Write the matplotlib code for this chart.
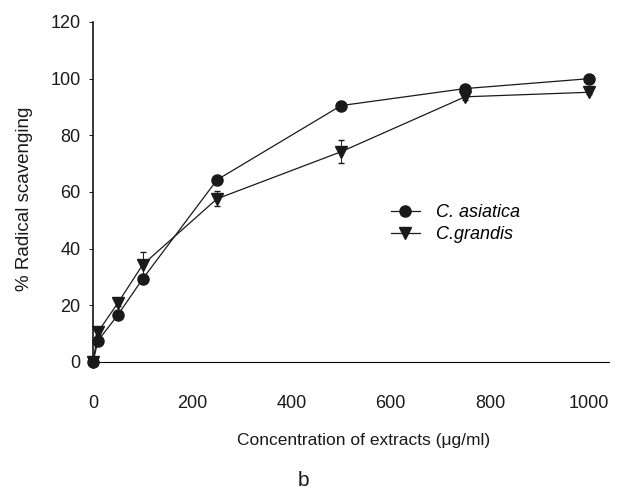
import matplotlib.pyplot as plt
import numpy as np

plt.rcParams['font.family'] = ['Liberation Sans', 'DejaVu Sans']

# data
conc = [0, 10, 50, 100, 250, 500, 750, 1000]
asiatica = [0, 7.5, 16.6, 29.3, 64.3, 90.5, 96.5, 100]
grandis = [0, 10.6, 20.8, 34.3, 57.6, 74.2, 93.6, 95.2]
grandis_err = [0, 1, 1, 4.5, 2.7, 4, 1, 0.5]
xticks = [0, 200, 400, 600, 800, 1000]
yticks = [0, 20, 40, 60, 80, 100, 120]

col = '#1a1a1a'
fig = plt.figure(figsize=(6.29, 4.93), dpi=100)
ax = fig.add_axes([93/629, 1-362/493, (609-93)/629, 340/493])

ax.plot(conc, asiatica, color=col, lw=0.9, marker='o', ms=8,
        clip_on=False, zorder=3, label='C. asiatica')
ax.errorbar(conc, grandis, yerr=grandis_err, color=col, lw=0.9, marker='v', ms=8,
            capsize=2, elinewidth=0.7, clip_on=False, zorder=3, label='C.grandis')

ax.set_xlim(0, 1040)
ax.set_ylim(0, 120)
ax.set_xticks(xticks)
ax.set_yticks(yticks)
ax.spines['top'].set_visible(False)
ax.spines['right'].set_visible(False)
ax.spines['left'].set_linewidth(1.1)
ax.spines['bottom'].set_linewidth(0.8)
ax.tick_params(axis='y', length=3, width=0.7, pad=6, labelsize=13, colors=col)
ax.tick_params(axis='x', length=0, pad=24, labelsize=13, colors=col)

h, l = ax.get_legend_handles_labels()
h = [h[0], h[1][0] if isinstance(h[1], tuple) else h[1]]
leg = fig.legend(h, l, loc='upper left', bbox_to_anchor=(382/629, 1-195/493),
                 frameon=False, borderpad=0, handlelength=1.6, handletextpad=0.9,
                 labelspacing=0.3, prop={'style': 'italic', 'size': 13})

fig.text(25/629, 1-199/493, '% Radical scavenging', rotation=90, ha='center',
         va='center', fontsize=13.5, color=col)
fig.text(364/629, 1-440/493, 'Concentration of extracts (\u03bcg/ml)', ha='center',
         va='center', fontsize=12.5, color=col)
fig.text(303/629, 1-480/493, 'b', ha='center', va='center', fontsize=15, color=col)

fig.savefig('out.png')
